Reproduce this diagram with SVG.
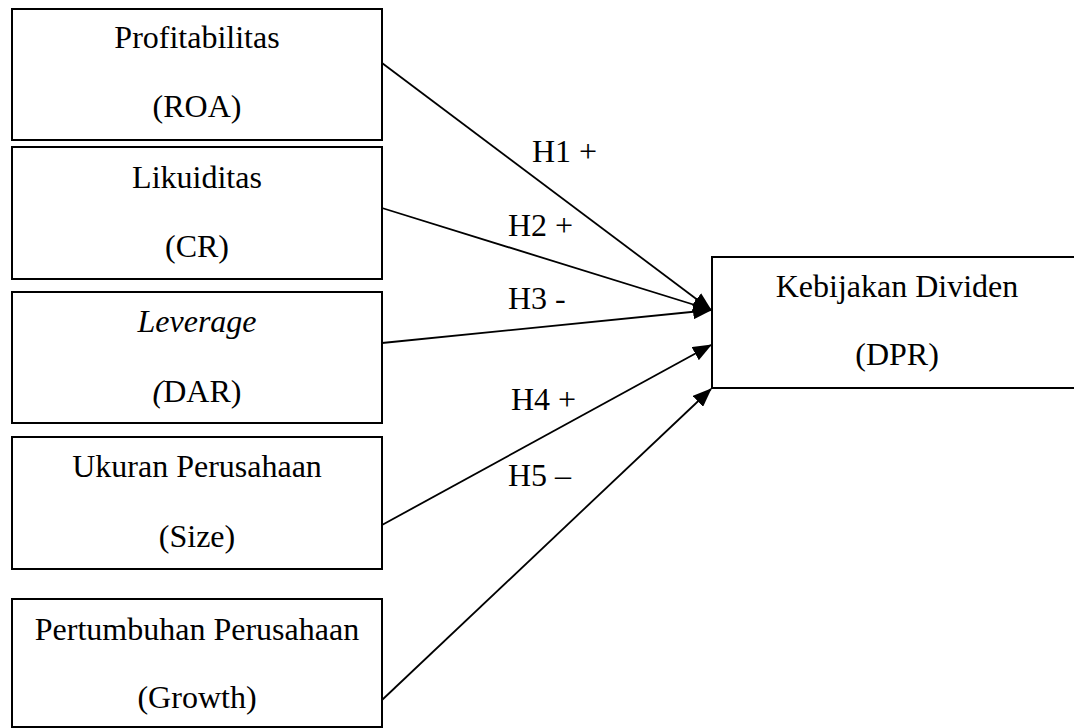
<svg xmlns="http://www.w3.org/2000/svg" width="1074" height="728" viewBox="0 0 1074 728">
<style>
.box{fill:#fff;stroke:#000;stroke-width:2}
.t{font-family:"Liberation Serif","Times New Roman",serif;font-size:32px;fill:#000;text-anchor:middle}
.lbl{font-family:"Liberation Serif","Times New Roman",serif;font-size:32px;fill:#000}
.c{stroke:#000;stroke-width:1.8;fill:none;marker-end:url(#ah)}
</style>
<defs>
<marker id="ah" markerUnits="userSpaceOnUse" markerWidth="19" markerHeight="15" refX="18" refY="7.5" orient="auto">
<path d="M0,0 L19,7.5 L0,15 Z" fill="#000"/>
</marker>
</defs>
<rect width="1074" height="728" fill="#fff"/>
<g id="n-roa">
<rect class="box" x="12" y="9" width="370" height="131"/>
<text class="t" x="197" y="48">Profitabilitas</text>
<text class="t" x="197" y="117">(ROA)</text>
</g>
<g id="n-cr">
<rect class="box" x="12" y="147" width="370" height="132"/>
<text class="t" x="197" y="188">Likuiditas</text>
<text class="t" x="197" y="257">(CR)</text>
</g>
<g id="n-dar">
<rect class="box" x="12" y="292" width="370" height="131"/>
<text class="t" x="197" y="332" font-style="italic">Leverage</text>
<text class="t" x="197" y="402"><tspan font-style="italic">(</tspan>DAR)</text>
</g>
<g id="n-size">
<rect class="box" x="12" y="437" width="370" height="132"/>
<text class="t" x="197" y="477">Ukuran Perusahaan</text>
<text class="t" x="197" y="547">(Size)</text>
</g>
<g id="n-growth">
<rect class="box" x="12" y="599" width="370" height="128"/>
<text class="t" x="197" y="640">Pertumbuhan Perusahaan</text>
<text class="t" x="197" y="708">(Growth)</text>
</g>
<g id="n-dpr">
<rect class="box" x="712" y="257" width="380" height="131"/>
<text class="t" x="897" y="297">Kebijakan Dividen</text>
<text class="t" x="897" y="365">(DPR)</text>
</g>
<g id="connectors">
<line class="c" x1="382" y1="63" x2="711" y2="310"/>
<line class="c" x1="382" y1="208" x2="711" y2="310"/>
<line class="c" x1="382" y1="343" x2="711" y2="310"/>
<line class="c" x1="382" y1="525" x2="711" y2="345"/>
<line class="c" x1="382" y1="700" x2="711" y2="389"/>
<text class="lbl" x="532" y="162">H1 +</text>
<text class="lbl" x="508" y="236">H2 +</text>
<text class="lbl" x="508" y="309">H3 -</text>
<text class="lbl" x="511" y="410">H4 +</text>
<text class="lbl" x="508" y="486">H5 –</text>
</g>
</svg>
